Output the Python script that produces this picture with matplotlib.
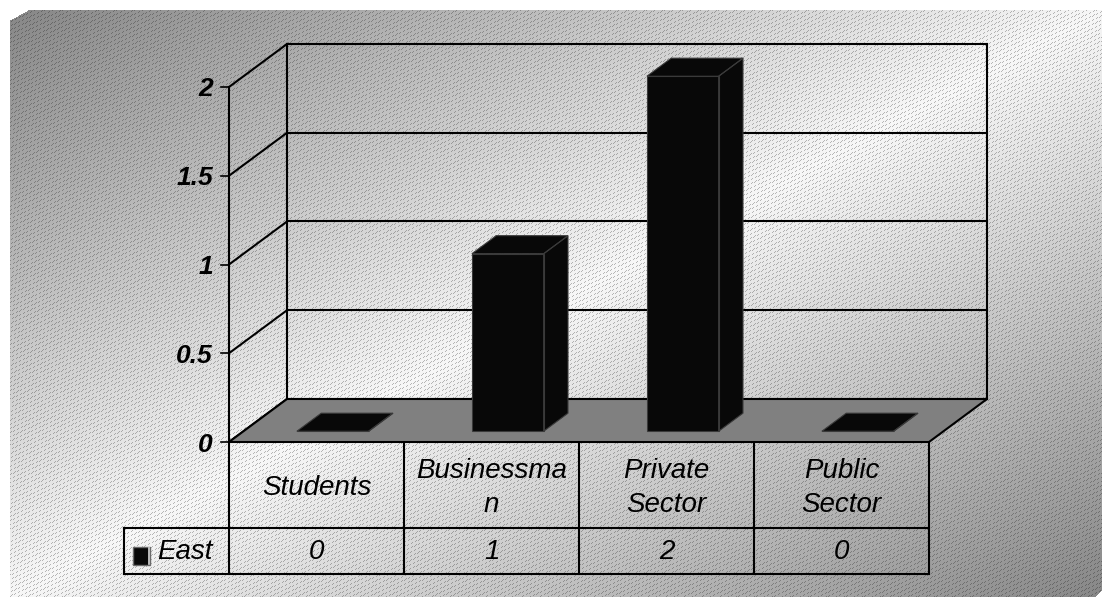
import numpy as np
import matplotlib
matplotlib.use("Agg")
import matplotlib.pyplot as plt
from matplotlib.patches import Polygon, Rectangle

plt.rcParams['font.family'] = ['Liberation Sans', 'DejaVu Sans']
plt.rcParams['hatch.color'] = '#3c3c3c'
plt.rcParams['hatch.linewidth'] = 0.8

# ---- data ----
categories = ["Students", "Businessma\nn", "Private\nSector", "Public\nSector"]
series_name = "East"
east = [0, 1, 2, 0]
y_ticks = [0, 0.5, 1, 1.5, 2]
y_tick_labels = ["0", "0.5", "1", "1.5", "2"]

W, H, DPI = 1102, 603, 100
fig = plt.figure(figsize=(W / DPI, H / DPI), dpi=DPI)

# ---- backdrop: diagonal two-tone gradient with fine slanted lines ----
bg = fig.add_axes([0, 0, 1, 1])
bg.set_xlim(0, W)
bg.set_ylim(H, 0)
bg.axis('off')

yy, xx = np.mgrid[0:H, 0:W].astype(float)
L, T, R, B = 10, 10, W, 597
t = ((xx - L) / (R - L) + (yy - T) / (B - T)) / 2
dark, light = 0.53, 0.97
val = dark + (light - dark) * (1 - np.abs(2 * t - 1))
theta = np.deg2rad(25)
phase = xx * np.sin(theta) + yy * np.cos(theta)
on_line = (np.mod(phase, 3.8) < 1.1) & (((xx.astype(int) + yy.astype(int)) % 2) == 0)
val = np.where(on_line, val * 0.74, val)
inside = (xx >= L) & (yy >= T) & (yy < B)
inside &= ~(((yy - T) + (xx - L) * 10 / 18) < 10)
inside &= ~(((B - yy) + (R - xx)) < 8)
val = np.where(inside, val, 1.0)
img = np.dstack([val, val, val])
bg.imshow(img, extent=(0, W, H, 0), interpolation='nearest', aspect='auto', zorder=0)

# ---- plot area: front plane maps categories (x) and values (y) ----
ax_left, ax_right, ax_top, ax_bottom = 229, 929, 87, 442
ax = fig.add_axes([ax_left / W, (H - ax_bottom) / H,
                   (ax_right - ax_left) / W, (ax_bottom - ax_top) / H])
ax.set_xlim(0, len(east))
ax.set_ylim(0, 2)
ax.axis('off')
ax.patch.set_alpha(0)

px_x = (ax_right - ax_left) / len(east)
px_y = (ax_bottom - ax_top) / 2
DEPTH_X = 58 / px_x
DEPTH_Y = 43 / px_y


def proj(x, v, d):
    return (x + d * DEPTH_X, v + d * DEPTH_Y)


LW = 1.5
line_kw = dict(color='black', lw=LW, clip_on=False, solid_capstyle='projecting')

# back wall gridlines and edges
for v in y_ticks:
    p0, p1 = proj(0, v, 1), proj(len(east), v, 1)
    ax.plot([p0[0], p1[0]], [p0[1], p1[1]], **line_kw)
for xe in (0, len(east)):
    p0, p1 = proj(xe, 0, 1), proj(xe, 2, 1)
    ax.plot([p0[0], p1[0]], [p0[1], p1[1]], **line_kw)
# side wall gridlines
for v in y_ticks:
    p0, p1 = proj(0, v, 0), proj(0, v, 1)
    ax.plot([p0[0], p1[0]], [p0[1], p1[1]], **line_kw)
# value axis with ticks and labels
ax.plot([0, 0], [0, 2], **line_kw)
tick_len = 8 / px_x
for v, lab in zip(y_ticks, y_tick_labels):
    ax.plot([-tick_len, 0], [v, v], color='black', lw=1.2, clip_on=False)
    ax.text(-16 / px_x, v, lab, ha='right', va='center_baseline',
            fontsize=19, fontweight='bold', fontstyle='italic', clip_on=False)

# floor
floor = Polygon([proj(0, 0, 0), proj(len(east), 0, 0),
                 proj(len(east), 0, 1), proj(0, 0, 1)],
                closed=True, facecolor='#808080', edgecolor='black',
                lw=LW, clip_on=False, zorder=3)
ax.add_patch(floor)

# 3-D columns
bar_w, bar_d0, bar_d1 = 0.41, 0.25, 0.67
for i, v in enumerate(east):
    x0 = i + 0.51 - bar_w / 2
    x1 = x0 + bar_w
    faces = [
        [proj(x0, v, bar_d0), proj(x1, v, bar_d0), proj(x1, v, bar_d1), proj(x0, v, bar_d1)],
        [proj(x1, 0, bar_d0), proj(x1, 0, bar_d1), proj(x1, v, bar_d1), proj(x1, v, bar_d0)],
        [proj(x0, 0, bar_d0), proj(x1, 0, bar_d0), proj(x1, v, bar_d0), proj(x0, v, bar_d0)],
    ]
    for f in faces:
        ax.add_patch(Polygon(f, closed=True, facecolor='#080808', edgecolor='none',
                             hatch='....', clip_on=False, zorder=4))
        ax.add_patch(Polygon(f, closed=True, fill=False, edgecolor='#3a3a3a',
                             lw=0.8, clip_on=False, zorder=5))

# ---- data table under the floor ----
fig.canvas.draw()
col_px = [ax.transData.transform((k, 0))[0] for k in range(len(east) + 1)]
row_top, row_mid, row_bot = 442, 528, 574
legend_left = 124
tkw = dict(color='black', lw=LW, solid_capstyle='projecting')
bg.plot([legend_left, col_px[-1]], [row_mid, row_mid], **tkw)
bg.plot([legend_left, col_px[-1]], [row_bot, row_bot], **tkw)
bg.plot([legend_left, legend_left], [row_mid, row_bot], **tkw)
for cx in col_px:
    bg.plot([cx, cx], [row_top, row_bot], **tkw)

for k, (lab, v) in enumerate(zip(categories, east)):
    cx = (col_px[k] + col_px[k + 1]) / 2
    bg.text(cx, (row_top + row_mid) / 2 + 3, lab, ha='center', va='center',
            fontsize=20, fontstyle='italic', linespacing=1.45)
    bg.text(cx, (row_mid + row_bot) / 2 + 1, f"{v:g}", ha='center', va='center',
            fontsize=20, fontstyle='italic')

# legend key and series name
bg.add_patch(Rectangle((133, 547), 17, 18, facecolor='#080808', edgecolor='#6a6a6a',
                       lw=1.0, zorder=5))
bg.plot([148.5, 148.5], [548, 564], color='#d8d8d8', lw=1.2, zorder=6)
bg.text(157, (row_mid + row_bot) / 2 + 1, series_name, ha='left', va='center',
        fontsize=20, fontstyle='italic')

fig.savefig("out.png", dpi=DPI)
